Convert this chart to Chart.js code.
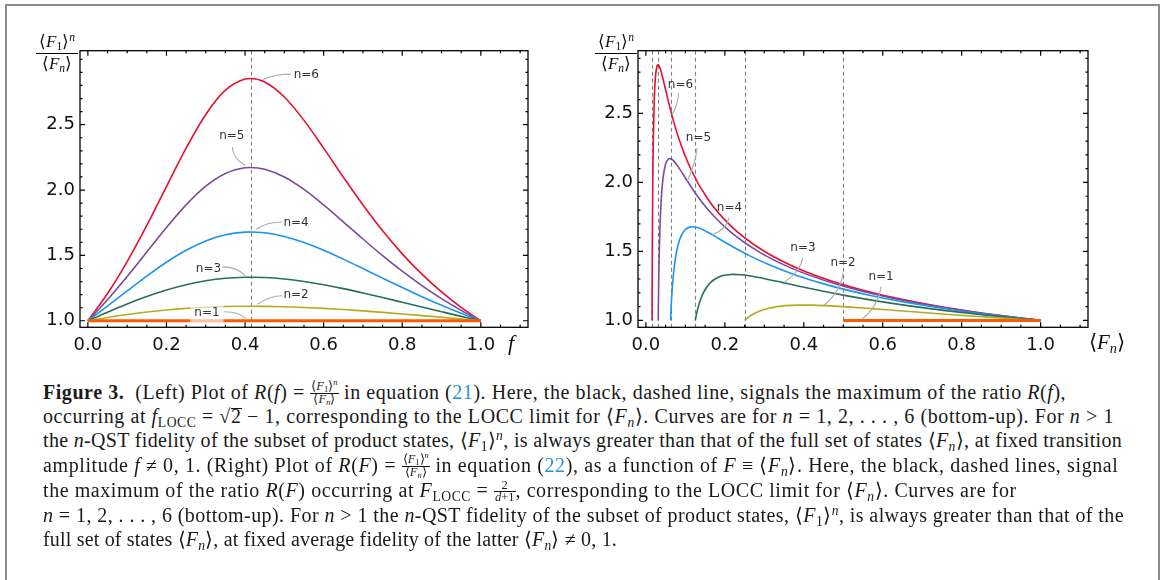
<!DOCTYPE html>
<html>
<head>
<meta charset="utf-8">
<script src="https://cdn.jsdelivr.net/npm/chart.js@4.4.1/dist/chart.umd.min.js"></script>
<style>
  html, body { margin: 0; padding: 0; background: #fff; }
  body { position: relative; width: 1165px; height: 580px; overflow: hidden; }
  #frame { position: absolute; left: 5px; top: 4px; width: 1154.5px; height: 640px;
           border: 2.5px solid #8c8c8c; box-sizing: border-box; }
  canvas { position: absolute; top: 0; }
  #leftChart { left: 0; }
  #rightChart { left: 560px; }

  .ft { position: absolute; font-family: 'Liberation Serif', serif; font-size: 17px;
        text-align: center; color: #111; width: 42px; }
  .ft .nu { display: block; border-bottom: 1px solid #000; line-height: 18px; }
  .ft .de { display: block; line-height: 20px; }
  .ft sub, .ft sup, .cap sub, .cap sup, .xt sub { font-size: 68%; vertical-align: baseline; position: relative; }
  .ft sub, .cap sub, .xt sub { top: 0.3em; }
  .ft sup, .cap sup { top: -0.5em; }
  .xt { position: absolute; font-family: 'Liberation Serif', serif; color: #111; line-height: 24px; }

  .cap { position: absolute; left: 43px; font-family: 'Liberation Serif', serif; font-size: 20px;
         line-height: 24px; height: 24px; white-space: nowrap; color: #1a1a1a; }
  .cap .ref { color: #2a8fd4; }
  .frac { display: inline-block; vertical-align: -3.5px; text-align: center; font-size: 12.5px; letter-spacing: 0; }
  .frac .nu { display: block; line-height: 11px; padding: 0 1px; }
  .frac .de { display: block; line-height: 11px; border-top: 1px solid #111; padding: 0 1px; }
  .ov { display: inline-block; line-height: 15px; border-top: 1px solid #111; }
</style>
</head>
<body>
<div id="frame"></div>
<canvas id="leftChart" width="560" height="360"></canvas>
<canvas id="rightChart" width="560" height="360"></canvas>

<div class="ft" style="left:36px; top:33px;">
  <span class="nu">⟨<i>F</i><sub>1</sub>⟩<sup><i>n</i></sup></span>
  <span class="de">⟨<i>F</i><sub><i>n</i></sub>⟩</span>
</div>
<div class="ft" style="left:595px; top:33px;">
  <span class="nu">⟨<i>F</i><sub>1</sub>⟩<sup><i>n</i></sup></span>
  <span class="de">⟨<i>F</i><sub><i>n</i></sub>⟩</span>
</div>
<div class="xt" style="left:508px; top:331px; font-size:22px;"><i>f</i></div>
<div class="xt" style="left:1089px; top:330px; font-size:21px;">⟨<i>F</i><sub><i>n</i></sub>⟩</div>

<div class="cap" data-end="1071" style="top:380px;"><b>Figure 3.</b>&nbsp; (Left) Plot of <i>R</i>(<i>f</i>) = <span class="frac"><span class="nu">⟨<i>F</i><sub>1</sub>⟩<sup><i>n</i></sup></span><span class="de">⟨<i>F</i><sub><i>n</i></sub>⟩</span></span> in equation (<span class="ref">21</span>). Here, the black, dashed line, signals the maximum of the ratio <i>R</i>(<i>f</i>),</div>
<div class="cap" data-end="1114" style="top:404px;">occurring at <i>f</i><sub>LOCC</sub> = √<span class="ov">2</span> − 1, corresponding to the LOCC limit for ⟨<i>F</i><sub><i>n</i></sub>⟩. Curves are for <i>n</i> = 1, 2, . . . , 6 (bottom-up). For <i>n</i> &gt; 1</div>
<div class="cap" data-end="1122" style="top:428px;">the <i>n</i>-QST fidelity of the subset of product states, ⟨<i>F</i><sub>1</sub>⟩<sup><i>n</i></sup>, is always greater than that of the full set of states ⟨<i>F</i><sub><i>n</i></sub>⟩, at fixed transition</div>
<div class="cap" data-end="1124" style="top:453px;">amplitude <i>f</i> ≠ 0, 1. (Right) Plot of <i>R</i>(<i>F</i>) = <span class="frac"><span class="nu">⟨<i>F</i><sub>1</sub>⟩<sup><i>n</i></sup></span><span class="de">⟨<i>F</i><sub><i>n</i></sub>⟩</span></span> in equation (<span class="ref">22</span>), as a function of <i>F</i> ≡ ⟨<i>F</i><sub><i>n</i></sub>⟩. Here, the black, dashed lines, signal</div>
<div class="cap" data-end="1019" style="top:478px;">the maximum of the ratio <i>R</i>(<i>F</i>) occurring at <i>F</i><sub>LOCC</sub> = <span class="frac"><span class="nu">2</span><span class="de"><i>d</i>+1</span></span>, corresponding to the LOCC limit for ⟨<i>F</i><sub><i>n</i></sub>⟩. Curves are for</div>
<div class="cap" data-end="1124" style="top:503px;"><i>n</i> = 1, 2, . . . , 6 (bottom-up). For <i>n</i> &gt; 1 the <i>n</i>-QST fidelity of the subset of product states, ⟨<i>F</i><sub>1</sub>⟩<sup><i>n</i></sup>, is always greater than that of the</div>
<div class="cap" data-end="617" style="top:527px;">full set of states ⟨<i>F</i><sub><i>n</i></sub>⟩, at fixed average fidelity of the latter ⟨<i>F</i><sub><i>n</i></sub>⟩ ≠ 0, 1.</div>

<script>
// transition amplitude f (left x) -- shared parameter of every curve
const fAmp = [0, 0.05, 0.1, 0.15, 0.2, 0.25, 0.3, 0.35, 0.4, 0.414, 0.45, 0.5,
              0.55, 0.6, 0.65, 0.7, 0.75, 0.8, 0.85, 0.9, 0.95, 0.975, 1];

// ratio <F1>^n / <Fn> for n = 2..6 (same values on both panels)
const ratioN2 = [1, 1.0253, 1.0477, 1.0668, 1.0824, 1.0946, 1.1033, 1.1087, 1.1110, 1.1111, 1.1104, 1.1073,
                 1.1019, 1.0946, 1.0857, 1.0755, 1.0642, 1.0522, 1.0396, 1.0266, 1.0131, 1.0067, 1];
const ratioN3 = [1, 1.0658, 1.1283, 1.1855, 1.2351, 1.2756, 1.3057, 1.3248, 1.3329, 1.3333, 1.3308, 1.3196,
                 1.3007, 1.2756, 1.2459, 1.2128, 1.1777, 1.1416, 1.1052, 1.0692, 1.0337, 1.0168, 1];
const ratioN4 = [1, 1.1126, 1.2282, 1.3419, 1.4478, 1.5394, 1.6107, 1.6576, 1.6780, 1.6790, 1.6727, 1.6448,
                 1.5987, 1.5394, 1.4715, 1.3994, 1.3260, 1.2538, 1.1844, 1.1186, 1.0566, 1.0280, 1];
const ratioN5 = [1, 1.1608, 1.3379, 1.5254, 1.7129, 1.8862, 2.0291, 2.1269, 2.1706, 2.1728, 2.1594, 2.1001,
                 2.0046, 1.8862, 1.7568, 1.6255, 1.4983, 1.3790, 1.2693, 1.1697, 1.0796, 1.0390, 1];
const ratioN6 = [1, 1.2085, 1.4529, 1.7295, 2.0263, 2.3204, 2.5783, 2.7637, 2.8489, 2.8532, 2.8267, 2.7120,
                 2.5330, 2.3204, 2.0990, 1.8853, 1.6884, 1.5119, 1.3563, 1.2205, 1.1019, 1.0494, 1];

// average fidelity <Fn> (right x) at the same points
const fidN2 = [0.25, 0.2608, 0.2732, 0.2875, 0.3037, 0.3221, 0.3428, 0.3661, 0.3921, 0.4, 0.4210, 0.4531,
               0.4886, 0.5277, 0.5706, 0.6176, 0.6689, 0.7249, 0.7857, 0.8516, 0.9230, 0.9607, 1];
const fidN3 = [0.125, 0.1297, 0.1357, 0.1432, 0.1526, 0.1641, 0.1782, 0.1952, 0.2157, 0.2222, 0.2402, 0.2693,
               0.3037, 0.3441, 0.3914, 0.4464, 0.5100, 0.5835, 0.6679, 0.7645, 0.8747, 0.9354, 1];
const fidN4 = [0.0625, 0.06426, 0.0667, 0.07007, 0.07463, 0.08074, 0.08881, 0.09938, 0.1131, 0.1176, 0.1307, 0.1530,
               0.1813, 0.2167, 0.2608, 0.3153, 0.3822, 0.4640, 0.5633, 0.6832, 0.8274, 0.9099, 1];
const fidN5 = [0.03125, 0.03185, 0.03276, 0.03413, 0.03617, 0.03912, 0.04336, 0.04934, 0.0577, 0.06061, 0.06921, 0.08491,
               0.1061, 0.1344, 0.1719, 0.2212, 0.2854, 0.3684, 0.4750, 0.6109, 0.7831, 0.8854, 1];
const fidN6 = [0.015625, 0.01582, 0.01614, 0.01667, 0.01753, 0.01888, 0.02099, 0.02419, 0.02901, 0.03077, 0.03615, 0.04657,
               0.06161, 0.08305, 0.1133, 0.1554, 0.2137, 0.2935, 0.4017, 0.5474, 0.7420, 0.8621, 1];

// n = 1 is flat
const n1LeftX = [0, 1];
const n1RightX = [0.5, 1];
const n1Ratio = [1, 1];

// dashed markers
const leftLocc = [0.4142];
const rightStarts = [0.015625, 0.03125, 0.0625, 0.125, 0.25, 0.5];

// tick labels
const xTickLabels = [0, 0.2, 0.4, 0.6, 0.8, 1.0];
const yTickLabels = [1.0, 1.5, 2.0, 2.5];

const seriesNames = ['n=1', 'n=2', 'n=3', 'n=4', 'n=5', 'n=6'];
const seriesColors = ['#ff5a00', '#b3ad1e', '#276e5e', '#1c93ee', '#7a4a9e', '#e8102e'];

function pairs(xs, ys) {
  return xs.map((x, i) => ({ x: x, y: ys[i] }));
}

function makeDatasets(xLists, n1x) {
  const ratios = [n1Ratio, ratioN2, ratioN3, ratioN4, ratioN5, ratioN6];
  const xs = [n1x].concat(xLists);
  return seriesNames.map((name, i) => ({
    label: name,
    data: pairs(xs[i], ratios[i]),
    borderColor: seriesColors[i],
    borderWidth: i === 0 ? 3 : 1.6,
    showLine: true,
    pointRadius: 0,
    cubicInterpolationMode: 'monotone',
    fill: false
  }));
}

// inward frame ticks, dashed markers, callouts
const frameTicks = {
  id: 'frameTicks',
  beforeDatasetsDraw(chart, args, opts) {
    const { ctx, chartArea: a, scales: { x } } = chart;
    ctx.save();
    ctx.strokeStyle = '#808080';
    ctx.lineWidth = 1.1;
    ctx.setLineDash([4, 3]);
    opts.dashed.forEach(v => {
      const px = Math.round(x.getPixelForValue(v)) + 0.5;
      ctx.beginPath();
      ctx.moveTo(px, a.top);
      ctx.lineTo(px, a.bottom);
      ctx.stroke();
    });
    ctx.restore();
  },
  afterDatasetsDraw(chart, args, opts) {
    const { ctx, chartArea: a, scales: { x, y } } = chart;
    ctx.save();
    ctx.font = '12px "DejaVu Sans"';
    ctx.textAlign = 'center';
    ctx.textBaseline = 'middle';

    // callouts
    opts.callouts.forEach(c => {
      const tx = x.getPixelForValue(c.at[0]), ty = y.getPixelForValue(c.at[1]);
      if (c.halo) {
        const w = ctx.measureText(c.label).width;
        ctx.fillStyle = 'rgba(255,255,255,0.6)';
        ctx.fillRect(tx - w / 2 - 4, ty - 10, w + 8, 20);
      }
      const p = c.lead.map(q => [x.getPixelForValue(q[0]), y.getPixelForValue(q[1])]);
      ctx.strokeStyle = '#ababab';
      ctx.lineWidth = 1.1;
      ctx.beginPath();
      ctx.moveTo(p[0][0], p[0][1]);
      ctx.quadraticCurveTo(p[1][0], p[1][1], p[2][0], p[2][1]);
      ctx.stroke();
      ctx.fillStyle = '#333';
      ctx.fillText(c.label, tx, ty);
    });

    // frame
    ctx.strokeStyle = '#000';
    ctx.lineWidth = 1.3;
    ctx.strokeRect(a.left, a.top, a.right - a.left, a.bottom - a.top);

    // ticks
    ctx.lineWidth = 1.2;
    const isMajor = (v, list) => list.some(m => Math.abs(m - v) < 1e-6);
    for (let i = 0; i <= 22; i++) {
      const v = i * 0.05;
      const px = x.getPixelForValue(v);
      const len = isMajor(v, xTickLabels) ? 5 : 2.5;
      ctx.beginPath();
      ctx.moveTo(px, a.bottom); ctx.lineTo(px, a.bottom - len);
      ctx.moveTo(px, a.top); ctx.lineTo(px, a.top + len);
      ctx.stroke();
    }
    for (let i = 0; i <= opts.yMinorCount; i++) {
      const v = 1 + i * 0.1;
      const py = y.getPixelForValue(v);
      const len = isMajor(v, yTickLabels) ? 5 : 2.5;
      ctx.beginPath();
      ctx.moveTo(a.left, py); ctx.lineTo(a.left + len, py);
      ctx.moveTo(a.right, py); ctx.lineTo(a.right - len, py);
      ctx.stroke();
    }
    ctx.restore();
  }
};

function buildChart(id, datasets, yMax, yAxisWidth, pluginOpts) {
  return new Chart(document.getElementById(id), {
    type: 'scatter',
    data: { datasets: datasets },
    options: {
      responsive: false,
      animation: false,
      layout: { padding: { top: 50.7, right: 32, left: 0, bottom: 0 } },
      plugins: {
        legend: { display: false },
        tooltip: { enabled: false },
        frameTicks: pluginOpts
      },
      scales: {
        x: {
          type: 'linear', min: -0.02, max: 1.12,
          grid: { display: false, drawTicks: false },
          border: { display: false },
          afterBuildTicks: s => { s.ticks = xTickLabels.map(v => ({ value: v })); },
          afterFit: s => { s.height = 32.7; },
          ticks: { padding: 7, color: '#111', autoSkip: false, maxRotation: 0,
                   font: { family: 'DejaVu Sans', size: 18 }, callback: v => v.toFixed(1) }
        },
        y: {
          type: 'linear', min: 0.95, max: yMax,
          grid: { display: false, drawTicks: false },
          border: { display: false },
          afterBuildTicks: s => { s.ticks = yTickLabels.map(v => ({ value: v })); },
          afterFit: s => { s.width = yAxisWidth; },
          ticks: { padding: 5, color: '#111', autoSkip: false,
                   font: { family: 'DejaVu Sans', size: 18 }, callback: v => v.toFixed(1) }
        }
      }
    },
    plugins: [frameTicks]
  });
}

buildChart('leftChart',
  makeDatasets([fAmp, fAmp, fAmp, fAmp, fAmp], n1LeftX),
  3.066, 80,
  {
    dashed: leftLocc,
    yMinorCount: 20,
    callouts: [
      { label: 'n=6', at: [0.556, 2.879], lead: [[0.517, 2.887], [0.477, 2.887], [0.446, 2.845]] },
      { label: 'n=5', at: [0.3664, 2.4156], lead: [[0.3676, 2.33], [0.3676, 2.245], [0.4006, 2.19]] },
      { label: 'n=4', at: [0.5298, 1.751], lead: [[0.4944, 1.756], [0.4563, 1.756], [0.4284, 1.70]] },
      { label: 'n=3', at: [0.3068, 1.3995], lead: [[0.3423, 1.4125], [0.3803, 1.4125], [0.4006, 1.345]] },
      { label: 'n=2', at: [0.5298, 1.1986], lead: [[0.4944, 1.191], [0.4614, 1.191], [0.431, 1.125]] },
      { label: 'n=1', at: [0.303, 1.0611], halo: true, lead: [[0.3473, 1.0688], [0.3853, 1.0688], [0.4031, 1.015]] }
    ]
  });

buildChart('rightChart',
  makeDatasets([fidN2, fidN3, fidN4, fidN5, fidN6], n1RightX),
  2.955, 78,
  {
    dashed: rightStarts,
    yMinorCount: 19,
    callouts: [
      { label: 'n=6', at: [0.0877, 2.7104], lead: [[0.0826, 2.648], [0.0826, 2.57], [0.066, 2.49]] },
      { label: 'n=5', at: [0.1333, 2.3207], lead: [[0.1295, 2.25], [0.1269, 2.15], [0.105, 2.01]] },
      { label: 'n=4', at: [0.2118, 1.8128], lead: [[0.2105, 1.745], [0.2055, 1.665], [0.168, 1.62]] },
      { label: 'n=3', at: [0.398, 1.5225], lead: [[0.398, 1.455], [0.39, 1.35], [0.35, 1.275]] },
      { label: 'n=2', at: [0.4994, 1.4136], lead: [[0.4994, 1.345], [0.4918, 1.20], [0.45, 1.108]] },
      { label: 'n=1', at: [0.5958, 1.312], lead: [[0.5958, 1.245], [0.5882, 1.10], [0.548, 1.012]] }
    ]
  });

// stretch each caption line to the width it has in the printed figure
document.querySelectorAll('.cap').forEach(el => {
  const target = +el.dataset.end - 43;
  const w = el.getBoundingClientRect().width;
  const n = el.textContent.length;
  el.style.letterSpacing = ((target - w) / n).toFixed(3) + 'px';
});
</script>
</body>
</html>
